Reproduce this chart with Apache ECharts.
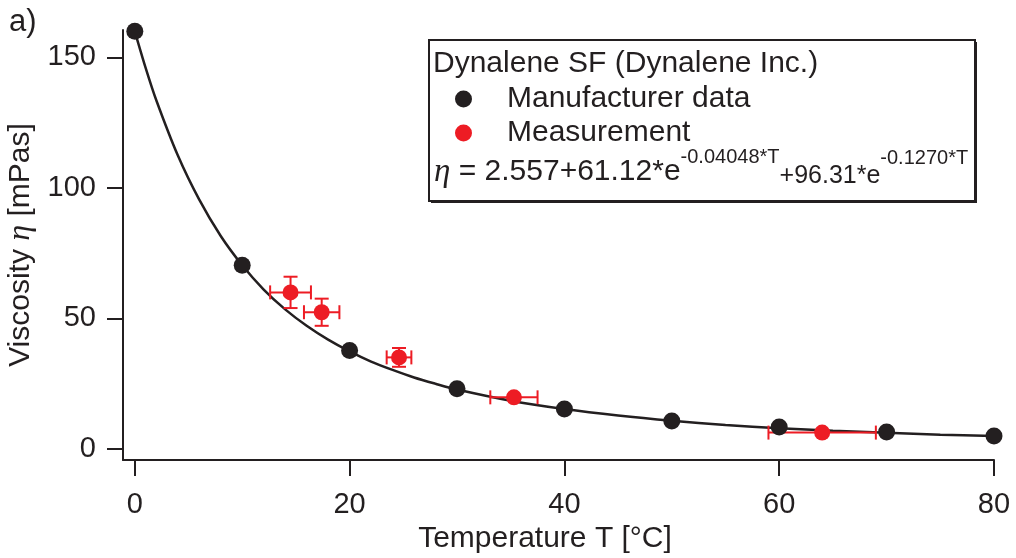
<!DOCTYPE html>
<html lang="en">
<head>
  <meta charset="UTF-8">
  <title>Dynalene SF viscosity</title>
  <script src="https://cdn.jsdelivr.net/npm/echarts@6/dist/echarts.min.js"></script>
  <style>html, body { margin: 0; padding: 0; background: #fff; }</style>
</head>
<body>
  <div id="app" style="width: 1016px; height: 558px;"></div>
  <script>
    var INK = '#231f20'
    var RED = '#ed1c24'
    var FONT = "'Liberation Sans', Arial, sans-serif"

    // manufacturer data (black dots)
    var mfrT = [0, 10, 20, 30, 40, 50, 60, 70, 80]
    var mfrEta = [160, 70.4, 37.7, 23.1, 15.3, 10.7, 8.4, 6.5, 5.0]

    // own measurements (red) with error bars
    var measT = [14.5, 17.4, 24.6, 35.3, 64.0]
    var measEta = [60.0, 52.4, 35.1, 19.8, 6.3]
    var measTErr = [1.9, 1.65, 1.15, 2.2, 5.0]
    var measEtaErr = [6.0, 5.2, 3.6, 1.0, 0.5]

    // fitted curve
    var fitT = [0, 1, 2, 4, 6, 8, 10, 12, 14, 16, 18, 20, 22, 24, 26, 28, 30, 35, 40, 45, 50, 55, 60, 65, 70, 75, 80]
    var fitEta = [160.0, 146.1, 133.6, 112.5, 95.5, 81.6, 70.4, 61.1, 53.5, 47.2, 41.9, 37.4, 33.5, 30.3, 27.4, 25.0, 22.8, 18.5, 15.3, 12.8, 10.8, 9.2, 8.0, 7.0, 6.2, 5.5, 5.0]

    var xTicks = [0, 20, 40, 60, 80]
    var yTicks = [0, 50, 100, 150]

    function pairs(a, b) {
      return a.map(function (v, i) { return [v, b[i]] })
    }

    var errData = measT.map(function (t, i) {
      return [t, measEta[i], measTErr[i], measEtaErr[i]]
    })

    function renderErr(params, api) {
      var t = api.value(0), e = api.value(1), dt = api.value(2), de = api.value(3)
      var l = api.coord([t - dt, e]), r = api.coord([t + dt, e])
      var lo = api.coord([t, e - de]), hi = api.coord([t, e + de])
      var cap = 7
      var st = { stroke: RED, lineWidth: 2 }
      function seg(x1, y1, x2, y2) {
        return { type: 'line', shape: { x1: x1, y1: y1, x2: x2, y2: y2 }, style: st }
      }
      return {
        type: 'group',
        children: [
          seg(l[0], l[1], r[0], r[1]),
          seg(l[0], l[1] - cap, l[0], l[1] + cap),
          seg(r[0], r[1] - cap, r[0], r[1] + cap),
          seg(lo[0], lo[1], hi[0], hi[1]),
          seg(lo[0] - cap, lo[1], lo[0] + cap, lo[1]),
          seg(hi[0] - cap, hi[1], hi[0] + cap, hi[1])
        ]
      }
    }

    var axisCommon = {
      axisLine: { onZero: false, lineStyle: { color: INK, width: 2 } },
      axisTick: { inside: false, length: 16, lineStyle: { color: INK, width: 2 } },
      splitLine: { show: false },
      nameLocation: 'middle'
    }

    var chart = echarts.init(document.getElementById('app'))

    var option = {
      backgroundColor: '#fff',
      animation: false,
      grid: { left: 123, right: 22, top: 30, bottom: 98, containLabel: false, outerBoundsMode: 'none' },
      xAxis: Object.assign({}, axisCommon, {
        type: 'value',
        min: -1.1,
        max: 80,
        axisTick: Object.assign({}, axisCommon.axisTick, { customValues: xTicks }),
        axisLabel: { customValues: xTicks, fontSize: 29, fontFamily: FONT, color: INK, margin: 30 },
        name: 'Temperature T [°C]',
        nameGap: 61,
        nameTextStyle: { fontSize: 30, fontFamily: FONT, color: INK, padding: [0, 27, 0, 0] }
      }),
      yAxis: Object.assign({}, axisCommon, {
        type: 'value',
        min: -4.2,
        max: 160.5,
        axisTick: Object.assign({}, axisCommon.axisTick, { customValues: yTicks }),
        axisLabel: { customValues: yTicks, fontSize: 29, fontFamily: FONT, color: INK, margin: 27 },
        name: 'Viscosity {eta|η} [mPas]',
        nameGap: 74,
        nameTextStyle: {
          fontSize: 30, fontFamily: FONT, color: INK,
          rich: { eta: { fontSize: 32, fontFamily: "'Liberation Serif', serif", fontStyle: 'italic', color: INK } }
        }
      }),
      legend: {
        orient: 'vertical',
        left: 450,
        top: 79,
        itemWidth: 17,
        itemHeight: 17,
        itemGap: 4,
        textStyle: { fontSize: 30, fontFamily: FONT, color: INK, padding: [0, 0, 0, 30] },
        data: [
          { name: 'Manufacturer data', icon: 'circle' },
          { name: 'Measurement', icon: 'circle' }
        ]
      },
      graphic: [
        {
          // drop shadow of the legend box
          type: 'rect', left: 431, top: 42, z: 2,
          shape: { width: 546, height: 161 },
          style: { fill: INK }
        },
        {
          type: 'rect', left: 428, top: 39, z: 3,
          shape: { width: 546, height: 161 },
          style: { fill: '#fff', stroke: INK, lineWidth: 2 }
        },
        {
          type: 'text', left: 433, top: 49, z: 5,
          style: { text: 'Dynalene SF (Dynalene Inc.)', fontSize: 30, fontFamily: FONT, fill: INK }
        },
        {
          type: 'text', left: 434, top: 147, z: 5,
          style: {
            text: '{eta|η}{b| = 2.557+61.12*e}{s1|-0.04048*T}{lo|+96.31*e}{s2|-0.1270*T}',
            fill: INK,
            rich: {
              eta: { fontSize: 33, fontFamily: "'Liberation Serif', serif", fontStyle: 'italic', lineHeight: 42, fill: INK },
              b: { fontSize: 30, fontFamily: FONT, lineHeight: 42, fill: INK },
              s1: { fontSize: 20, fontFamily: FONT, lineHeight: 42, padding: [0, 0, 30, 0], fill: INK },
              lo: { fontSize: 25, fontFamily: FONT, lineHeight: 42, padding: [9, 0, 0, 0], fill: INK },
              s2: { fontSize: 20, fontFamily: FONT, lineHeight: 42, padding: [0, 0, 27, 0], fill: INK }
            }
          }
        },
        {
          type: 'text', left: 9, top: 7, z: 5,
          style: { text: 'a)', fontSize: 31, fontFamily: FONT, fill: INK }
        }
      ],
      series: [
        {
          name: 'fit',
          type: 'line',
          data: pairs(fitT, fitEta),
          smooth: 0.3,
          showSymbol: false,
          lineStyle: { color: INK, width: 2.5 },
          z: 1
        },
        {
          name: 'error',
          type: 'custom',
          renderItem: renderErr,
          data: errData,
          encode: { x: 0, y: 1 },
          clip: false,
          z: 2
        },
        {
          name: 'Manufacturer data',
          type: 'scatter',
          data: pairs(mfrT, mfrEta),
          symbol: 'circle',
          symbolSize: 17,
          itemStyle: { color: INK, opacity: 1 },
          z: 3
        },
        {
          name: 'Measurement',
          type: 'scatter',
          data: pairs(measT, measEta),
          symbol: 'circle',
          symbolSize: 16,
          itemStyle: { color: RED, opacity: 1 },
          z: 4
        }
      ]
    }
    chart.setOption(option)
  </script>
</body>
</html>
